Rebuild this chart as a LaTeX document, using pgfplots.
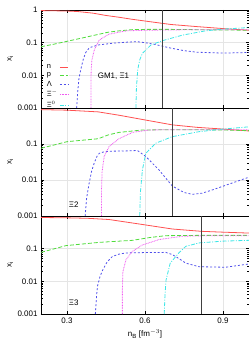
\documentclass[border=0pt]{standalone}
\usepackage{fontspec}
\setmainfont{Liberation Sans}
\usepackage{pgfplots}
\pgfplotsset{compat=1.18}
\definecolor{cn}{RGB}{255,80,80}
\definecolor{cp}{RGB}{80,220,60}
\definecolor{cl}{RGB}{80,80,235}
\definecolor{cxm}{RGB}{240,90,240}
\definecolor{cxz}{RGB}{60,230,230}
\tikzset{
  sn/.style={cn, line width=0.8pt},
  sp/.style={cp, line width=0.8pt, dash pattern=on 4pt off 2pt},
  sl/.style={cl, line width=0.8pt, dash pattern=on 2pt off 2pt},
  sxm/.style={cxm, line width=0.8pt, dash pattern=on 0.8pt off 0.8pt},
  sxz/.style={cxz, line width=0.8pt, dash pattern=on 4pt off 1.5pt on 1pt off 1.5pt},
  vl/.style={black!75, line width=0.6pt},
}
\begin{document}
\begin{tikzpicture}
\path[use as bounding box] (0,0) rectangle (249bp,349bp);
% Panel 1
\begin{axis}[at={(41bp,241bp)}, anchor=south west, height=98bp,
  scale only axis, width=208bp, xmin=0.2, xmax=1.0,
  ymode=log, ymin=0.001, ymax=1,
  xtick={0.3,0.6,0.9},
  grid=major, major grid style={gray!20, line width=0.4pt},
  axis line style={line width=0.7pt},
  tick align=inside, major tick length=3bp, minor tick length=1.5bp,
  tick style={black, line width=0.4pt},
  tick label style={font=\fontsize{8}{9}\selectfont},
  ylabel={x$_{\mathrm{i}}$}, ylabel style={font=\fontsize{8}{9}\selectfont, at={(axis description cs:-0.148,0.5)}, anchor=center},
  ytick={0.001,0.01,0.1,1}, yticklabels={0.001,0.01,0.1,1}, xticklabels={},
  legend style={draw=none, fill=white, font=\fontsize{7.5}{8}\selectfont, at={(0.015,0.47)}, anchor=north west, inner sep=0.5pt, row sep=-1.2bp},
  legend image code/.code={\draw[#1] (0bp,0bp) -- (8bp,0bp);},
  legend cell align=left, legend plot pos=right]
\addplot[sn] coordinates {(0.2,0.96)(0.3,0.93)(0.34,0.9)(0.4,0.8)(0.45,0.68)(0.5,0.6)(0.55,0.52)(0.6,0.46)(0.667,0.39)(0.7,0.36)(0.8,0.31)(0.9,0.27)(1.0,0.24)};
\addlegendentry{n}
\addplot[sp] coordinates {(0.2,0.075)(0.25,0.09)(0.3,0.11)(0.36,0.14)(0.4,0.165)(0.46,0.21)(0.5,0.23)(0.55,0.25)(0.6,0.255)(0.7,0.255)(0.8,0.25)(0.9,0.245)(1.0,0.24)};
\addlegendentry{p}
\addplot[sl] coordinates {(0.337,0.001)(0.341,0.003)(0.346,0.008)(0.353,0.015)(0.362,0.03)(0.372,0.05)(0.386,0.07)(0.42,0.085)(0.48,0.097)(0.54,0.105)(0.57,0.107)(0.6,0.1)(0.64,0.088)(0.667,0.078)(0.7,0.068)(0.75,0.057)(0.8,0.051)(0.9,0.048)(1.0,0.05)};
\addlegendentry{Λ}
\addplot[sxm] coordinates {(0.392,0.001)(0.392,0.005)(0.393,0.015)(0.396,0.03)(0.405,0.06)(0.424,0.12)(0.46,0.18)(0.5,0.21)(0.53,0.23)(0.6,0.24)(0.7,0.245)(0.8,0.25)(0.9,0.25)(1.0,0.25)};
\addlegendentry{Ξ$^-$}
\addplot[sxz] coordinates {(0.565,0.001)(0.567,0.004)(0.572,0.015)(0.58,0.03)(0.59,0.047)(0.623,0.085)(0.667,0.115)(0.744,0.17)(0.833,0.23)(0.9,0.26)(1.0,0.29)};
\addlegendentry{Ξ$^0$}
\addplot[vl, forget plot] coordinates {(0.667,0.001)(0.667,1)};
\node[anchor=west, font=\fontsize{8}{9}\selectfont] at (axis cs:0.405,0.0095) {GM1, Ξ1};
\end{axis}
% Panel 2
\begin{axis}[at={(41bp,133bp)}, anchor=south west, height=108bp,
  scale only axis, width=208bp, xmin=0.2, xmax=1.0,
  ymode=log, ymin=0.001, ymax=1,
  xtick={0.3,0.6,0.9},
  grid=major, major grid style={gray!20, line width=0.4pt},
  axis line style={line width=0.7pt},
  tick align=inside, major tick length=3bp, minor tick length=1.5bp,
  tick style={black, line width=0.4pt},
  tick label style={font=\fontsize{8}{9}\selectfont},
  ylabel={x$_{\mathrm{i}}$}, ylabel style={font=\fontsize{8}{9}\selectfont, at={(axis description cs:-0.148,0.5)}, anchor=center},
  ytick={0.001,0.01,0.1}, yticklabels={0.001,0.01,0.1}, xticklabels={}]
\addplot[sn] coordinates {(0.2,0.9)(0.3,0.87)(0.42,0.78)(0.5,0.63)(0.59,0.48)(0.705,0.34)(0.8,0.29)(0.9,0.26)(1.0,0.23)};
\addplot[sp] coordinates {(0.2,0.076)(0.3,0.116)(0.42,0.14)(0.46,0.18)(0.5,0.21)(0.59,0.245)(0.7,0.25)(0.8,0.25)(0.9,0.245)(1.0,0.235)};
\addplot[sl] coordinates {(0.37,0.001)(0.375,0.003)(0.385,0.008)(0.395,0.018)(0.405,0.03)(0.415,0.045)(0.424,0.055)(0.44,0.06)(0.462,0.063)(0.52,0.064)(0.571,0.066)(0.603,0.045)(0.654,0.019)(0.705,0.0068)(0.75,0.0045)(0.782,0.004)(0.82,0.0043)(0.859,0.0053)(0.93,0.008)(1.0,0.012)};
\addplot[sxm] coordinates {(0.433,0.001)(0.433,0.006)(0.435,0.017)(0.443,0.045)(0.462,0.085)(0.5,0.14)(0.552,0.21)(0.616,0.245)(0.7,0.25)(0.8,0.25)(0.9,0.25)(1.0,0.25)};
\addplot[sxz] coordinates {(0.58,0.001)(0.582,0.0043)(0.59,0.019)(0.603,0.055)(0.641,0.105)(0.705,0.16)(0.808,0.22)(0.9,0.26)(1.0,0.3)};
\addplot[vl] coordinates {(0.705,0.001)(0.705,1)};
\node[anchor=west, font=\fontsize{8}{9}\selectfont] at (axis cs:0.294,0.0021) {Ξ2};
\end{axis}
% Panel 3
\begin{axis}[at={(41bp,35bp)}, anchor=south west, height=98bp,
  scale only axis, width=208bp, xmin=0.2, xmax=1.0,
  ymode=log, ymin=0.001, ymax=1,
  xtick={0.3,0.6,0.9},
  grid=major, major grid style={gray!20, line width=0.4pt},
  axis line style={line width=0.7pt},
  tick align=inside, major tick length=3bp, minor tick length=1.5bp,
  tick style={black, line width=0.4pt},
  tick label style={font=\fontsize{8}{9}\selectfont},
  ylabel={x$_{\mathrm{i}}$}, ylabel style={font=\fontsize{8}{9}\selectfont, at={(axis description cs:-0.148,0.5)}, anchor=center},
  ytick={0.001,0.01,0.1}, yticklabels={0.001,0.01,0.1},
  xticklabels={0.3,0.6,0.9},
  xlabel={n$_{\mathrm{B}}$ [fm$^{-3}$]}, xlabel style={font=\fontsize{8}{9}\selectfont}]
\addplot[sn] coordinates {(0.2,0.9)(0.3,0.88)(0.38,0.85)(0.462,0.78)(0.59,0.55)(0.705,0.4)(0.816,0.34)(0.9,0.32)(1.0,0.3)};
\addplot[sp] coordinates {(0.2,0.077)(0.296,0.124)(0.424,0.156)(0.552,0.18)(0.62,0.22)(0.68,0.25)(0.8,0.255)(0.9,0.255)(1.0,0.255)};
\addplot[sl] coordinates {(0.409,0.001)(0.413,0.003)(0.417,0.007)(0.427,0.014)(0.437,0.022)(0.455,0.04)(0.475,0.058)(0.5,0.068)(0.527,0.074)(0.6,0.076)(0.68,0.077)(0.705,0.066)(0.73,0.05)(0.757,0.036)(0.808,0.028)(0.91,0.027)(1.0,0.034)};
\addplot[sxm] coordinates {(0.513,0.001)(0.513,0.006)(0.515,0.02)(0.527,0.046)(0.552,0.083)(0.59,0.13)(0.654,0.19)(0.744,0.24)(0.85,0.25)(1.0,0.25)};
\addplot[sxz] coordinates {(0.674,0.001)(0.677,0.004)(0.681,0.011)(0.697,0.036)(0.73,0.074)(0.757,0.118)(0.808,0.15)(0.9,0.17)(1.0,0.18)};
\addplot[vl] coordinates {(0.816,0.001)(0.816,1)};
\node[anchor=west, font=\fontsize{8}{9}\selectfont] at (axis cs:0.294,0.0022) {Ξ3};
\end{axis}
\end{tikzpicture}
\end{document}
